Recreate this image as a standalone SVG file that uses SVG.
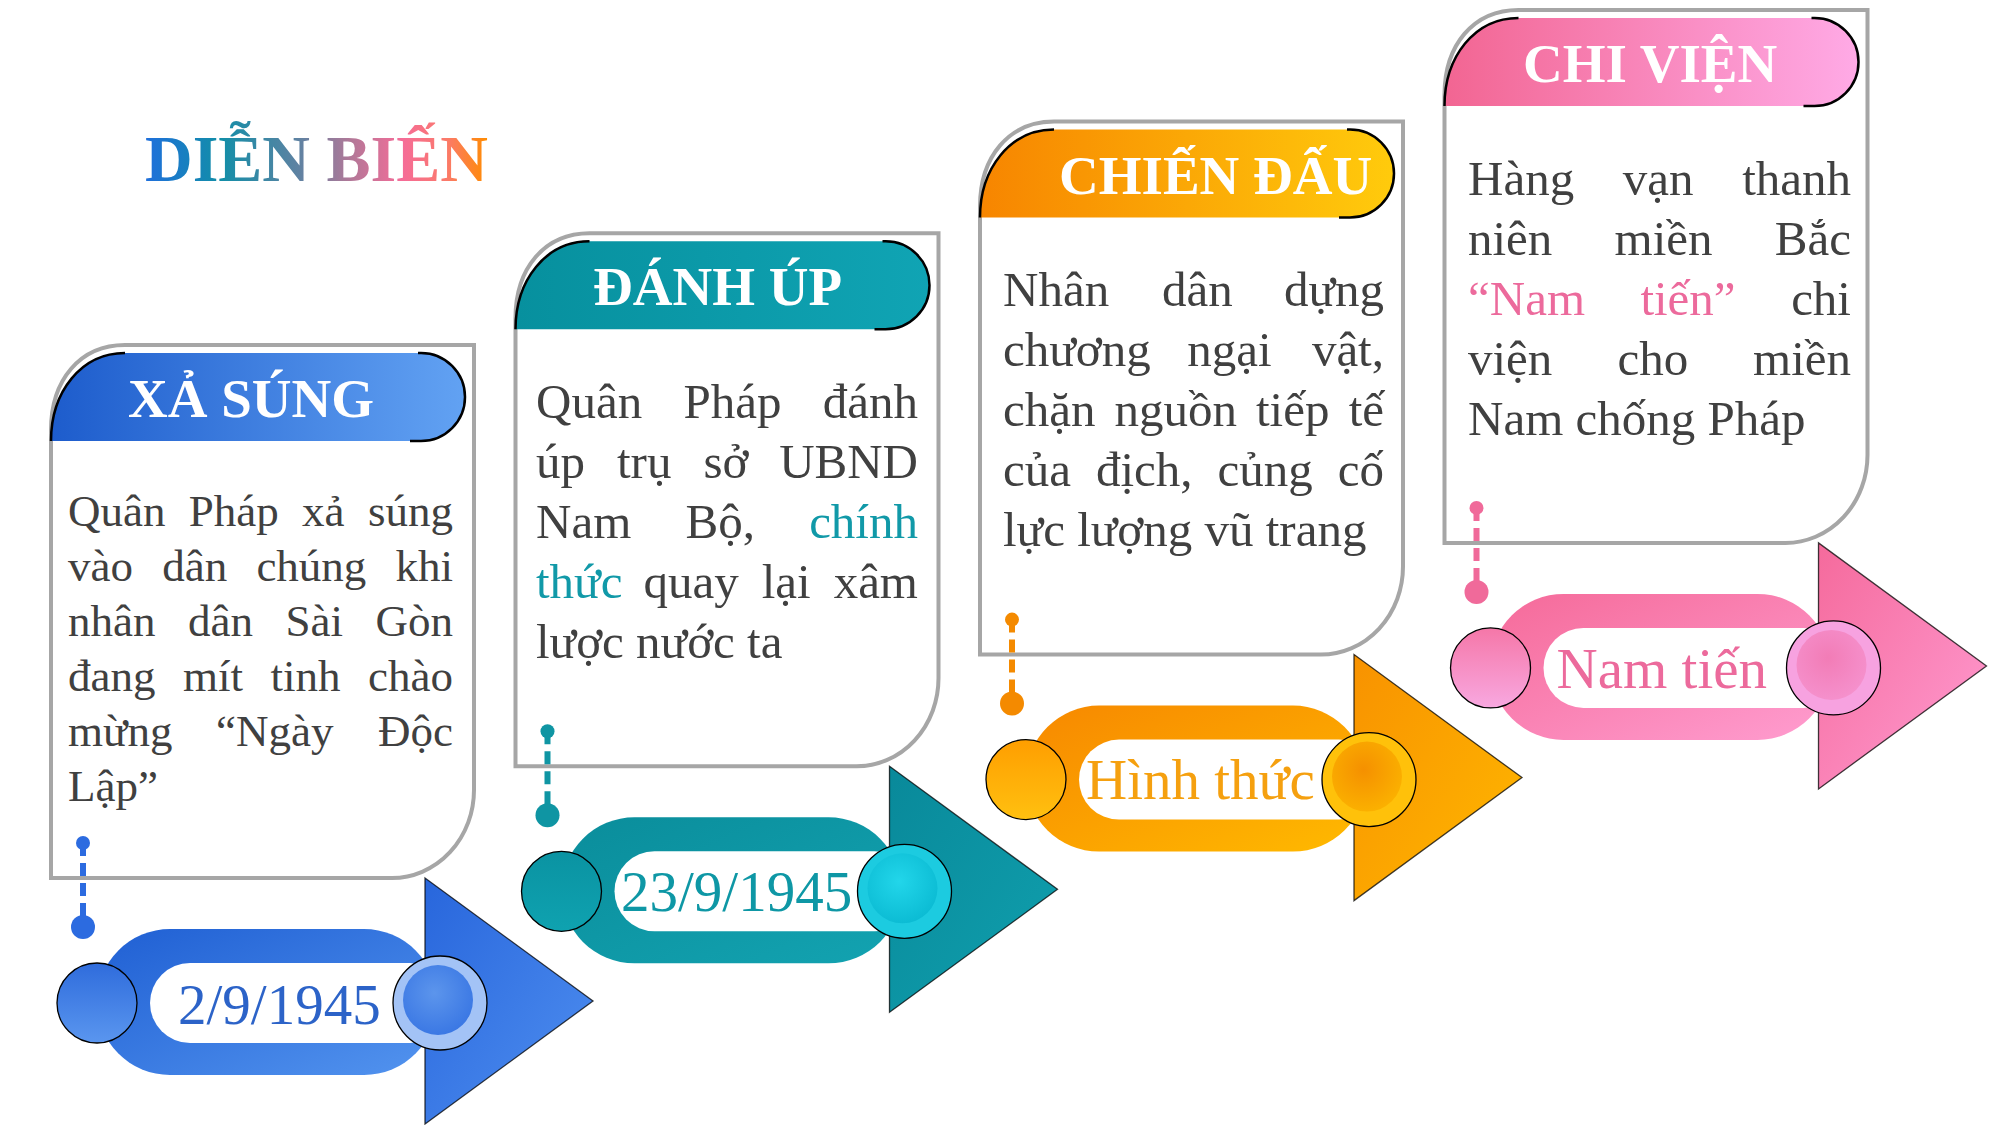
<svg xmlns="http://www.w3.org/2000/svg" width="2001" height="1125" viewBox="0 0 2001 1125">
<defs>
<linearGradient id="gTitle" x1="0" y1="0" x2="1" y2="0">
<stop offset="0" stop-color="#1f6fdc"/><stop offset="0.22" stop-color="#128ea8"/><stop offset="0.45" stop-color="#5f82a2"/><stop offset="0.6" stop-color="#b27898"/><stop offset="0.75" stop-color="#f56c98"/><stop offset="0.88" stop-color="#fb7a6a"/><stop offset="1" stop-color="#ff8c00"/>
</linearGradient>
<linearGradient id="bH" x1="0" y1="0" x2="1" y2="0"><stop offset="0" stop-color="#1d5ccc"/><stop offset="1" stop-color="#62a2f3"/></linearGradient>
<linearGradient id="bB" x1="0" y1="0" x2="1" y2="1"><stop offset="0" stop-color="#1f5fd3"/><stop offset="1" stop-color="#5394ef"/></linearGradient>
<linearGradient id="bT" x1="0" y1="0" x2="1" y2="1"><stop offset="0" stop-color="#2866dc"/><stop offset="1" stop-color="#4f8ff0"/></linearGradient>
<linearGradient id="bC" x1="0" y1="0" x2="0" y2="1"><stop offset="0" stop-color="#2f6cdc"/><stop offset="1" stop-color="#5a96ef"/></linearGradient>
<radialGradient id="bI" cx="0.45" cy="0.4" r="0.6"><stop offset="0" stop-color="#5c95ec"/><stop offset="1" stop-color="#3b78e4"/></radialGradient>
<linearGradient id="tH" x1="0" y1="0" x2="1" y2="0"><stop offset="0" stop-color="#07909e"/><stop offset="1" stop-color="#10a4b4"/></linearGradient>
<linearGradient id="tB" x1="0" y1="0" x2="1" y2="1"><stop offset="0" stop-color="#0a8d9b"/><stop offset="1" stop-color="#13a3b1"/></linearGradient>
<linearGradient id="tT" x1="0" y1="0" x2="1" y2="1"><stop offset="0" stop-color="#09899a"/><stop offset="1" stop-color="#10a0ae"/></linearGradient>
<linearGradient id="tC" x1="0" y1="0" x2="0" y2="1"><stop offset="0" stop-color="#0a93a2"/><stop offset="1" stop-color="#0fa2b0"/></linearGradient>
<radialGradient id="tI" cx="0.45" cy="0.4" r="0.6"><stop offset="0" stop-color="#22d6ea"/><stop offset="1" stop-color="#0cbcd4"/></radialGradient>
<linearGradient id="oH" x1="0" y1="0" x2="1" y2="0"><stop offset="0" stop-color="#f78500"/><stop offset="1" stop-color="#ffcb0c"/></linearGradient>
<linearGradient id="oB" x1="0" y1="0" x2="1" y2="1"><stop offset="0" stop-color="#f78800"/><stop offset="1" stop-color="#ffba00"/></linearGradient>
<linearGradient id="oT" x1="0" y1="0" x2="1" y2="1"><stop offset="0" stop-color="#f89200"/><stop offset="1" stop-color="#ffb800"/></linearGradient>
<linearGradient id="oC" x1="0" y1="0" x2="0" y2="1"><stop offset="0" stop-color="#ff9e00"/><stop offset="1" stop-color="#ffc010"/></linearGradient>
<radialGradient id="oI" cx="0.45" cy="0.4" r="0.6"><stop offset="0" stop-color="#f59000"/><stop offset="1" stop-color="#fbb000"/></radialGradient>
<linearGradient id="pH" x1="0" y1="0" x2="1" y2="0"><stop offset="0" stop-color="#f26592"/><stop offset="1" stop-color="#ffaae6"/></linearGradient>
<linearGradient id="pB" x1="0" y1="0" x2="1" y2="1"><stop offset="0" stop-color="#f56a99"/><stop offset="1" stop-color="#ff9dd0"/></linearGradient>
<linearGradient id="pT" x1="0" y1="0" x2="1" y2="1"><stop offset="0" stop-color="#f56a9c"/><stop offset="1" stop-color="#ff9cd2"/></linearGradient>
<linearGradient id="pC" x1="0" y1="0" x2="0" y2="1"><stop offset="0" stop-color="#f577a8"/><stop offset="1" stop-color="#f8a8e0"/></linearGradient>
<radialGradient id="pI" cx="0.45" cy="0.4" r="0.6"><stop offset="0" stop-color="#f27cb6"/><stop offset="1" stop-color="#f590cc"/></radialGradient>
<style>
.card{fill:#fff;stroke:#a6a6a6;stroke-width:4}
.edge{fill:none;stroke:#000;stroke-width:2.5}
.tri{stroke:#000;stroke-width:1.3;stroke-opacity:0.75}
.circ{stroke:#000;stroke-width:1.3}
.pill{fill:#fff}
.head{font-family:"Liberation Serif","Times New Roman",serif;font-weight:bold;font-size:55px;fill:#fff}
.t1{font-family:"Liberation Serif","Times New Roman",serif;font-size:45px;fill:#404040}
.t2{font-family:"Liberation Serif","Times New Roman",serif;font-size:49px;fill:#404040}
.end{text-anchor:end}
.date{font-family:"Liberation Serif","Times New Roman",serif;font-size:57px}
.teal{fill:#1199a8}
.pink{fill:#ec6a9c}
.dash{fill:none;stroke-width:6;stroke-dasharray:13 7}
</style>
</defs>
<rect width="2001" height="1125" fill="#fff"/>
<text id="title" x="145" y="181" font-family="Liberation Serif,'Times New Roman',serif" font-weight="bold" font-size="66" fill="url(#gTitle)">DIỄN BIẾN</text>

<g id="node1">
<g>
<path class="card" d="M51 878 L51 430 C51 380 80 345 125 345 L474 345 L474 790 A82 88 0 0 1 392 878 Z"/>
<path fill="url(#bH)" d="M51 441 C51 392 81 353 125 353 L421 353 A44 44 0 0 1 421 441 Z"/>
<path class="edge" d="M51 441 C51 392 81 353 125 353"/>
<path class="edge" d="M418 353 L421 353 A44 44 0 0 1 421 441 L410 441"/>
<rect x="97" y="929" width="340" height="146" rx="73" fill="url(#bB)"/>
<rect class="pill" x="150" y="963" width="300" height="80" rx="40"/>
</g>
<text class="head" x="128" y="417">XẢ SÚNG</text>
<text class="t1" y="526"><tspan x="68">Quân</tspan><tspan x="188.8">Pháp</tspan><tspan x="302.1">xả</tspan></text><text class="t1 end" x="453" y="526">súng</text>
<text class="t1" y="581"><tspan x="68">vào</tspan><tspan x="162.2">dân</tspan><tspan x="256.4">chúng</tspan></text><text class="t1 end" x="453" y="581">khi</text>
<text class="t1" y="636"><tspan x="68">nhân</tspan><tspan x="188">dân</tspan><tspan x="285.5">Sài</tspan></text><text class="t1 end" x="453" y="636">Gòn</text>
<text class="t1" y="691"><tspan x="68">đang</tspan><tspan x="183">mít</tspan><tspan x="270.5">tinh</tspan></text><text class="t1 end" x="453" y="691">chào</text>
<text class="t1" y="746"><tspan x="68">mừng</tspan><tspan x="216">“Ngày</tspan></text><text class="t1 end" x="453" y="746">Độc</text>
<text class="t1" x="68" y="801">Lập”</text>
<text class="date" x="178" y="1024" fill="#2c63c8">2/9/1945</text>
<polygon class="tri" fill="url(#bT)" points="425,878 425,1124 593,1001"/>
<circle class="circ" cx="97" cy="1003" r="40" fill="url(#bC)"/>
<circle class="circ" cx="440" cy="1003" r="47" fill="#a3c3f6"/>
<circle cx="438" cy="1000" r="35" fill="url(#bI)"/>
</g>

<g id="node2">
<g transform="translate(464.5,-111.7)">
<path class="card" d="M51 878 L51 430 C51 380 80 345 125 345 L474 345 L474 790 A82 88 0 0 1 392 878 Z"/>
<path fill="url(#tH)" d="M51 441 C51 392 81 353 125 353 L421 353 A44 44 0 0 1 421 441 Z"/>
<path class="edge" d="M51 441 C51 392 81 353 125 353"/>
<path class="edge" d="M418 353 L421 353 A44 44 0 0 1 421 441 L410 441"/>
<rect x="97" y="929" width="340" height="146" rx="73" fill="url(#tB)"/>
<rect class="pill" x="150" y="963" width="300" height="80" rx="40"/>
</g>
<text class="head" x="593" y="305">ĐÁNH ÚP</text>
<text class="t2" y="418"><tspan x="536">Quân</tspan><tspan x="683.4">Pháp</tspan></text><text class="t2 end" x="918" y="418">đánh</text>
<text class="t2" y="478"><tspan x="536">úp</tspan><tspan x="617">trụ</tspan><tspan x="703.4">sở</tspan></text><text class="t2 end" x="918" y="478">UBND</text>
<text class="t2" y="538"><tspan x="536">Nam</tspan><tspan x="685.5">Bộ,</tspan></text><text class="t2 end teal" x="918" y="538">chính</text>
<text class="t2" y="598"><tspan x="536" class="teal">thức</tspan><tspan x="643.4">quay</tspan><tspan x="761.7">lại</tspan></text><text class="t2 end" x="918" y="598">xâm</text>
<text class="t2" x="536" y="658">lược nước ta</text>
<g transform="translate(464.5,-111.7)">
<text class="date" x="156.5" y="1023" fill="#0e97a5">23/9/1945</text>
<polygon class="tri" fill="url(#tT)" points="425,878 425,1124 593,1001"/>
<circle class="circ" cx="97" cy="1003" r="40" fill="url(#tC)"/>
<circle class="circ" cx="440" cy="1003" r="47" fill="#1ccbe0"/>
<circle cx="438" cy="1000" r="35" fill="url(#tI)"/>
</g>
</g>

<g id="node3">
<g transform="translate(929,-223.4)">
<path class="card" d="M51 878 L51 430 C51 380 80 345 125 345 L474 345 L474 790 A82 88 0 0 1 392 878 Z"/>
<path fill="url(#oH)" d="M51 441 C51 392 81 353 125 353 L421 353 A44 44 0 0 1 421 441 Z"/>
<path class="edge" d="M51 441 C51 392 81 353 125 353"/>
<path class="edge" d="M418 353 L421 353 A44 44 0 0 1 421 441 L410 441"/>
<rect x="97" y="929" width="340" height="146" rx="73" fill="url(#oB)"/>
<rect class="pill" x="150" y="963" width="300" height="80" rx="40"/>
</g>
<text class="head" x="1059" y="194">CHIẾN ĐẤU</text>
<text class="t2" y="306"><tspan x="1003">Nhân</tspan><tspan x="1162.1">dân</tspan></text><text class="t2 end" x="1384" y="306">dựng</text>
<text class="t2" y="366"><tspan x="1003">chương</tspan><tspan x="1187.3">ngại</tspan></text><text class="t2 end" x="1384" y="366">vật,</text>
<text class="t2" y="426"><tspan x="1003">chặn</tspan><tspan x="1114.5">nguồn</tspan><tspan x="1256">tiếp</tspan></text><text class="t2 end" x="1384" y="426">tế</text>
<text class="t2" y="486"><tspan x="1003">của</tspan><tspan x="1095.9">địch,</tspan><tspan x="1217.4">củng</tspan></text><text class="t2 end" x="1384" y="486">cố</text>
<text class="t2" x="1003" y="546">lực lượng vũ trang</text>
<g transform="translate(929,-223.4)">
<text class="date" x="157" y="1022.5" fill="#f5a00f">Hình thức</text>
<polygon class="tri" fill="url(#oT)" points="425,878 425,1124 593,1001"/>
<circle class="circ" cx="97" cy="1003" r="40" fill="url(#oC)"/>
<circle class="circ" cx="440" cy="1003" r="47" fill="#ffc10a"/>
<circle cx="438" cy="1000" r="35" fill="url(#oI)"/>
</g>
</g>

<g id="node4">
<g transform="translate(1393.5,-335.1)">
<path class="card" d="M51 878 L51 430 C51 380 80 345 125 345 L474 345 L474 790 A82 88 0 0 1 392 878 Z"/>
<path fill="url(#pH)" d="M51 441 C51 392 81 353 125 353 L421 353 A44 44 0 0 1 421 441 Z"/>
<path class="edge" d="M51 441 C51 392 81 353 125 353"/>
<path class="edge" d="M418 353 L421 353 A44 44 0 0 1 421 441 L410 441"/>
<rect x="97" y="929" width="340" height="146" rx="73" fill="url(#pB)"/>
<rect class="pill" x="150" y="963" width="300" height="80" rx="40"/>
</g>
<text class="head" x="1523" y="82">CHI VIỆN</text>
<text class="t2" y="195"><tspan x="1468">Hàng</tspan><tspan x="1622.7">vạn</tspan></text><text class="t2 end" x="1851" y="195">thanh</text>
<text class="t2" y="255"><tspan x="1468">niên</tspan><tspan x="1614.6">miền</tspan></text><text class="t2 end" x="1851" y="255">Bắc</text>
<text class="t2" y="315"><tspan x="1468" class="pink">“Nam</tspan><tspan x="1640.4" class="pink">tiến”</tspan></text><text class="t2 end" x="1851" y="315">chi</text>
<text class="t2" y="375"><tspan x="1468">viện</tspan><tspan x="1617.4">cho</tspan></text><text class="t2 end" x="1851" y="375">miền</text>
<text class="t2" x="1468" y="435">Nam chống Pháp</text>
<g transform="translate(1393.5,-335.1)">
<text class="date" x="163" y="1023" fill="#ec6a9c">Nam tiến</text>
<polygon class="tri" fill="url(#pT)" points="425,878 425,1124 593,1001"/>
<circle class="circ" cx="97" cy="1003" r="40" fill="url(#pC)"/>
<circle class="circ" cx="440" cy="1003" r="47" fill="#f7a2e0"/>
<circle cx="438" cy="1000" r="35" fill="url(#pI)"/>
</g>
</g>

<g id="connectors">
<g fill="#2c6be0" stroke="#2c6be0">
<line class="dash" x1="83" y1="843" x2="83" y2="922"/>
<circle cx="83" cy="843" r="7" stroke="none"/><circle cx="83" cy="927" r="12" stroke="none"/>
</g>
<g fill="#0f95a3" stroke="#0f95a3" transform="translate(464.5,-111.7)">
<line class="dash" x1="83" y1="843" x2="83" y2="922"/>
<circle cx="83" cy="843" r="7" stroke="none"/><circle cx="83" cy="927" r="12" stroke="none"/>
</g>
<g fill="#f48a00" stroke="#f48a00" transform="translate(929,-223.4)">
<line class="dash" x1="83" y1="843" x2="83" y2="922"/>
<circle cx="83" cy="843" r="7" stroke="none"/><circle cx="83" cy="927" r="12" stroke="none"/>
</g>
<g fill="#f06a9a" stroke="#f06a9a" transform="translate(1393.5,-335.1)">
<line class="dash" x1="83" y1="843" x2="83" y2="922"/>
<circle cx="83" cy="843" r="7" stroke="none"/><circle cx="83" cy="927" r="12" stroke="none"/>
</g>
</g>
</svg>
